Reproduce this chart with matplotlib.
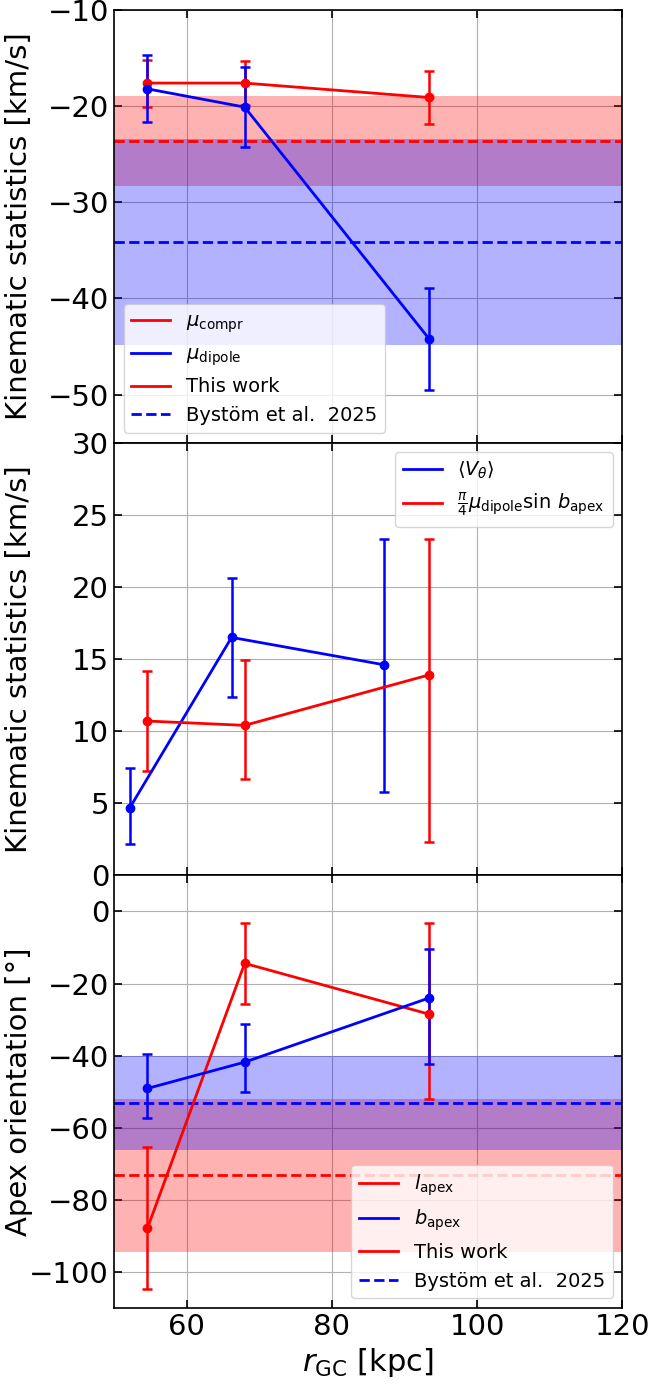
import matplotlib
matplotlib.use("Agg")
import matplotlib.pyplot as plt
from matplotlib.lines import Line2D

# radial bins [kpc]
r_main = [54.6, 68.0, 93.4]
r_vtheta = [52.2, 66.2, 87.2]

# top panel: kinematic statistics [km/s]
mu_compr = [-17.6, -17.6, -19.1]
mu_compr_err = [2.45, 2.25, 2.75]
mu_dipole = [-18.2, -20.1, -44.2]
mu_dipole_err = [3.5, 4.2, 5.3]
# Bystrom et al. 2025 reference values (value, error)
mu_compr_ref = (-23.6, 4.7)
mu_dipole_ref = (-34.1, 10.7)

# middle panel
v_theta = [4.7, 16.5, 14.6]
v_theta_lo = [2.55, 4.15, 8.8]
v_theta_hi = [2.75, 4.1, 8.7]
proj_dipole = [10.7, 10.4, 13.9]
proj_dipole_lo = [3.45, 3.75, 11.6]
proj_dipole_hi = [3.45, 4.55, 9.45]

# bottom panel: apex orientation [deg]
l_apex = [-87.9, -14.4, -28.5]
l_apex_lo = [16.8, 11.2, 23.4]
l_apex_hi = [22.6, 11.2, 25.3]
b_apex = [-49.1, -41.8, -24.0]
b_apex_lo = [8.1, 8.2, 18.4]
b_apex_hi = [9.5, 10.7, 13.7]
l_apex_ref = (-73.2, 21.2)
b_apex_ref = (-53.2, 13.0)

fs_tick = 21
fs_lab = 21
fs_leg = 14

fig, axs = plt.subplots(3, 1, figsize=(6.55, 13.88), dpi=100, sharex=True)
fig.subplots_adjust(left=0.174, right=0.95, top=0.9928, bottom=0.0576, hspace=0)

ekw = dict(fmt='o-', ms=6, lw=2, capsize=3.5, elinewidth=1.8, capthick=1.8)

# --- top ---
ax = axs[0]
ax.axhspan(mu_compr_ref[0] - mu_compr_ref[1], mu_compr_ref[0] + mu_compr_ref[1],
           color='red', alpha=0.3, lw=0)
ax.axhspan(mu_dipole_ref[0] - mu_dipole_ref[1], mu_dipole_ref[0] + mu_dipole_ref[1],
           color='blue', alpha=0.3, lw=0)
ax.axhline(mu_compr_ref[0], color='red', ls='--', lw=2)
ax.axhline(mu_dipole_ref[0], color='blue', ls='--', lw=2)
ax.errorbar(r_main, mu_compr, yerr=mu_compr_err, color='red', **ekw)
ax.errorbar(r_main, mu_dipole, yerr=mu_dipole_err, color='blue', **ekw)
ax.set_ylim(-55, -10)
ax.set_yticks([-50, -40, -30, -20, -10])
ax.set_ylabel('Kinematic statistics [km/s]', fontsize=fs_lab)
h = [Line2D([], [], color='red', lw=2), Line2D([], [], color='blue', lw=2),
     Line2D([], [], color='red', lw=2), Line2D([], [], color='blue', lw=2, ls='--')]
ax.legend(h, [r'$\mu_{\rm compr}$', r'$\mu_{\rm dipole}$', 'This work', 'Bystöm et al.  2025'],
          loc='lower left', fontsize=fs_leg)

# --- middle ---
ax = axs[1]
ax.errorbar(r_vtheta, v_theta, yerr=[v_theta_lo, v_theta_hi], color='blue', **ekw)
ax.errorbar(r_main, proj_dipole, yerr=[proj_dipole_lo, proj_dipole_hi], color='red', **ekw)
ax.set_ylim(0, 30)
ax.set_yticks([0, 5, 10, 15, 20, 25, 30])
ax.set_ylabel('Kinematic statistics [km/s]', fontsize=fs_lab)
h = [Line2D([], [], color='blue', lw=2), Line2D([], [], color='red', lw=2)]
ax.legend(h, [r'$\langle V_\theta \rangle$',
              r'$\frac{\pi}{4}\mu_{\rm dipole}\sin\,b_{\rm apex}$'],
          loc='upper right', fontsize=fs_leg)

# --- bottom ---
ax = axs[2]
ax.axhspan(l_apex_ref[0] - l_apex_ref[1], l_apex_ref[0] + l_apex_ref[1],
           color='red', alpha=0.3, lw=0)
ax.axhspan(b_apex_ref[0] - b_apex_ref[1], b_apex_ref[0] + b_apex_ref[1],
           color='blue', alpha=0.3, lw=0)
ax.axhline(l_apex_ref[0], color='red', ls='--', lw=2)
ax.axhline(b_apex_ref[0], color='blue', ls='--', lw=2)
ax.errorbar(r_main, l_apex, yerr=[l_apex_lo, l_apex_hi], color='red', **ekw)
ax.errorbar(r_main, b_apex, yerr=[b_apex_lo, b_apex_hi], color='blue', **ekw)
ax.set_ylim(-110, 10)
ax.set_yticks([-100, -80, -60, -40, -20, 0])
ax.set_ylabel('Apex orientation [°]', fontsize=fs_lab)
h = [Line2D([], [], color='red', lw=2), Line2D([], [], color='blue', lw=2),
     Line2D([], [], color='red', lw=2), Line2D([], [], color='blue', lw=2, ls='--')]
ax.legend(h, [r'$l_{\rm apex}$', r'$b_{\rm apex}$', 'This work', 'Bystöm et al.  2025'],
          loc='lower right', fontsize=fs_leg)
ax.set_xlim(50, 120)
ax.set_xticks([60, 80, 100, 120])
ax.set_xlabel(r'$r_{\rm GC}$ [kpc]', fontsize=22)

for ax in axs:
    ax.grid(True)
    ax.tick_params(direction='in', top=True, right=True, labelsize=fs_tick,
                   length=6, width=1.2)
    for s in ax.spines.values():
        s.set_linewidth(1.2)
    ax.set_axisbelow(True)
    ax.yaxis.set_label_coords(-0.16, 0.5)

fig.savefig('out.png', dpi=100)
